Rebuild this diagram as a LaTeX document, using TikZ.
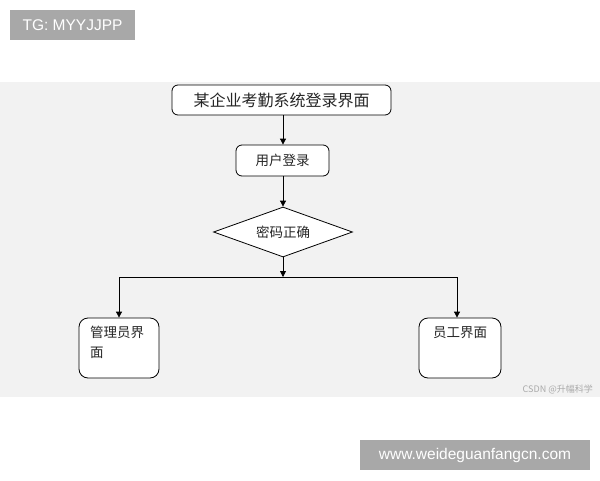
\documentclass[tikz,border=0pt]{standalone}
\usepackage{fontspec}
\setmainfont{Liberation Sans}
\newfontfamily\cjk{Noto Sans CJK SC}
\usetikzlibrary{shapes.geometric,arrows.meta}
\definecolor{bandgray}{HTML}{F2F2F2}
\definecolor{tagbg}{HTML}{A8A8A8}
\definecolor{wmgray}{HTML}{AAAAAA}
\tikzset{
  box/.style={draw=black, line width=0.8pt, rounded corners=6pt, fill=white, inner sep=0pt},
  bigbox/.style={box, rounded corners=9pt},
  arr/.style={-{Triangle[length=6pt,width=6pt]}, line width=0.8pt},
  ln/.style={line width=0.8pt},
  tag/.style={fill=tagbg, text=white, inner sep=0pt, font=\fontsize{15.5}{18}\selectfont},
  lbl/.style={font=\cjk\fontsize{13.5}{20}\selectfont, text=black!85}
}
\begin{document}
\begin{tikzpicture}[x=1pt,y=-1pt]
\useasboundingbox (0,0) rectangle (600,480);
\fill[white] (0,0) rectangle (600,480);
\fill[bandgray] (0,82) rectangle (600,397);
% tags
\node[tag, minimum width=125pt, minimum height=30pt] (tg) at (72.5,25) {TG: MYYJJPP};
\node[tag, minimum width=230pt, minimum height=30pt] (www) at (475,455) {www.weideguanfangcn.com};
% nodes
\node[box, minimum width=219pt, minimum height=30pt, lbl, font=\cjk\fontsize{16}{18}\selectfont] (title) at (281.5,100) {某企业考勤系统登录界面};
\node[box, minimum width=93pt, minimum height=31pt, lbl] (login) at (282.5,160.5) {用户登录};
\node[draw=black, line width=0.8pt, fill=white, diamond, aspect=2.78, minimum width=139pt, minimum height=50pt, inner sep=0pt, lbl] (pwd) at (283,232) {密码正确};
\node[bigbox, minimum width=80pt, minimum height=60pt] (admin) at (119,348) {};
\node[lbl, anchor=north west, align=left, inner sep=0pt] (admintxt) at (90,326) {管理员界\\面};
\node[bigbox, minimum width=82pt, minimum height=60pt] (emp) at (460,348) {};
\node[lbl, anchor=north, inner sep=0pt] (emptxt) at (460,326) {员工界面};
\node[text=wmgray, anchor=east, font=\cjk\fontsize{9}{10}\selectfont, inner sep=0pt] (wm) at (593,389) {CSDN @升幅科学};
% coordinates
\coordinate (j) at (283,277);
\coordinate (jl) at (119,277);
\coordinate (jr) at (457,277);
% connectors
\draw[arr] (283,115) -- (login.north -| 283,0);
\draw[arr] (login.south -| 283,0) -- (pwd.north);
\draw[arr] (pwd.south) -- (j);
\draw[ln] (jl) -- (jr);
\draw[arr] (jl) -- (admin.north);
\draw[arr] (jr) -- (jr |- emp.north);
\end{tikzpicture}
\end{document}
